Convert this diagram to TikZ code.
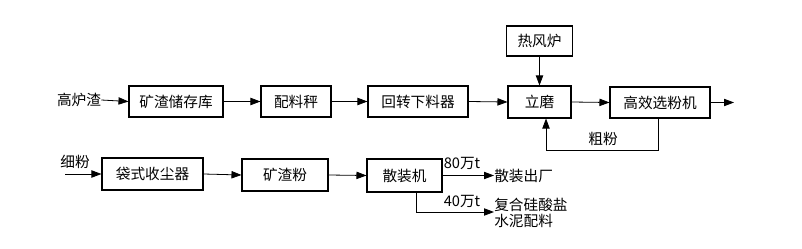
\documentclass[tikz,border=0pt]{standalone}
\usepackage{fontspec}
\setmainfont{Liberation Serif}
\newfontfamily\cjk{Noto Sans CJK SC}
\usetikzlibrary{arrows.meta}
\begin{document}
\begin{tikzpicture}[x=0.75pt,y=-0.75pt,
  box/.style={draw,line width=0.8pt,inner sep=0pt,font=\cjk\fontsize{11pt}{13pt}\selectfont},
  lbl/.style={inner sep=0pt,font=\cjk\fontsize{11pt}{13pt}\selectfont},
  arr/.style={line width=0.6pt,-{Triangle[length=7.5pt,width=5.5pt]}},
  ln/.style={line width=0.6pt}]
\useasboundingbox (0,0) rectangle (802,249);
% row 1
\node[lbl] (glz) at (79,100) {高炉渣};
\node[box,minimum width=70.5pt,minimum height=23.25pt] (kz) at (176,101.5) {矿渣储存库};
\node[box,minimum width=52.5pt,minimum height=23.25pt] (plc) at (296,101.5) {配料秤};
\node[box,minimum width=75pt,minimum height=23.25pt] (hz) at (418,101.5) {回转下料器};
\node[box,minimum width=47.25pt,minimum height=24pt] (lm) at (539.5,102) {立磨};
\node[box,minimum width=49.5pt,minimum height=22.5pt] (rfl) at (539.5,41) {热风炉};
\node[box,minimum width=75pt,minimum height=23.25pt] (gx) at (660,102.5) {高效选粉机};
\coordinate (out) at (734,102.5);
\coordinate (fb1) at (658,150);
\coordinate (fb2) at (546,150);
\node[lbl] (cf) at (603,139) {粗粉};
\draw[arr] (glz.east) -- (kz.west);
\draw[arr] (kz.east) -- (plc.west);
\draw[arr] (plc.east) -- (hz.west);
\draw[arr] (hz.east) -- (lm.west);
\draw[arr] (rfl.south) -- (lm.north);
\draw[arr] (lm.east) -- (gx.west);
\draw[arr] (gx.east) -- (out);
\draw[arr] (gx.south -| fb1) -- (fb1) -- (fb2) -- (lm.south -| fb2);
% row 2
\node[lbl] (xf) at (75,162) {细粉};
\coordinate (xin) at (65,174);
\node[box,minimum width=75.75pt,minimum height=24pt] (dsc) at (152.5,174) {袋式收尘器};
\node[box,minimum width=64.5pt,minimum height=24pt] (kzf) at (285,175) {矿渣粉};
\node[box,minimum width=56.25pt,minimum height=24.75pt] (szj) at (404.5,175.5) {散装机};
\node[lbl,anchor=west] (sz) at (494,175.5) {散装出厂};
\node[lbl,anchor=west,align=left,font=\cjk\fontsize{11pt}{12pt}\selectfont] (fh) at (494,213) {复合硅酸盐\\水泥配料};
\coordinate (b2) at (416,212);
\node[lbl] (l80) at (462,163) {80{\cjk 万}t};
\node[lbl] (l40) at (462,201) {40{\cjk 万}t};
\draw[arr] (xin) -- (dsc.west);
\draw[arr] (dsc.east) -- (kzf.west);
\draw[arr] (kzf.east) -- (szj.west);
\draw[arr] (szj.east) -- (sz.west);
\draw[arr] (szj.south -| b2) -- (b2) -- (b2 -| sz.west);
\end{tikzpicture}
\end{document}
